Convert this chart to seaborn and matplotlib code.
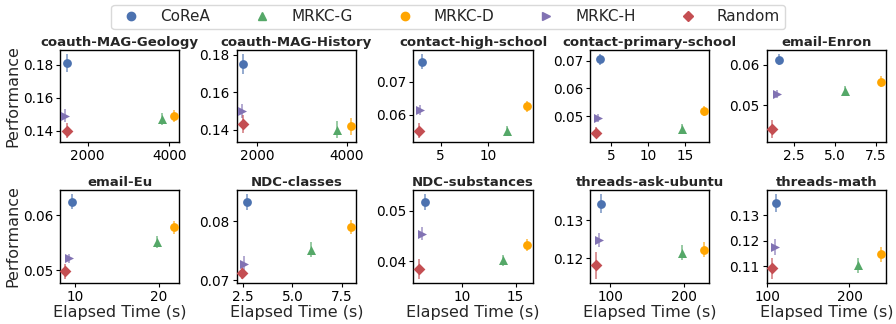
import numpy as np
import pandas as pd
import matplotlib
matplotlib.use("Agg")
import matplotlib.pyplot as plt
import seaborn as sns
from matplotlib.lines import Line2D

datasets = ["coauth-MAG-Geology", "coauth-MAG-History", "contact-high-school",
            "contact-primary-school", "email-Enron", "email-Eu", "NDC-classes",
            "NDC-substances", "threads-ask-ubuntu", "threads-math"]
methods = ["CoReA", "MRKC-G", "MRKC-D", "MRKC-H", "Random"]

# elapsed time (s) per method, one entry per dataset
time_corea = [1490, 1680, 3.0, 3.5, 1.6, 9.6, 2.70, 6.6, 88, 111]
time_mrkc_g = [3820, 3780, 12.0, 14.6, 5.65, 19.8, 5.95, 13.8, 198, 210]
time_mrkc_d = [4110, 4080, 14.2, 17.6, 7.8, 21.8, 7.95, 16.1, 228, 238]
time_mrkc_h = [1460, 1670, 2.8, 3.2, 1.5, 9.2, 2.55, 6.3, 85, 109]
time_random = [1490, 1680, 2.7, 2.9, 1.2, 8.8, 2.45, 6.0, 80, 106]

# performance per method
perf_corea = [0.181, 0.175, 0.0760, 0.0705, 0.0612, 0.0625, 0.0832, 0.0517, 0.1343, 0.1347]
perf_mrkc_g = [0.147, 0.140, 0.0550, 0.0455, 0.0535, 0.0551, 0.0752, 0.0402, 0.1215, 0.1104]
perf_mrkc_d = [0.149, 0.142, 0.0625, 0.0519, 0.0558, 0.0578, 0.0790, 0.0432, 0.1223, 0.1148]
perf_mrkc_h = [0.149, 0.150, 0.0613, 0.0493, 0.0528, 0.0522, 0.0728, 0.0455, 0.1248, 0.1175]
perf_random = [0.140, 0.143, 0.0552, 0.0440, 0.0440, 0.0498, 0.0713, 0.0385, 0.1182, 0.1092]

# standard deviation of performance
std_corea = [0.0053, 0.0053, 0.0023, 0.0019, 0.0014, 0.0013, 0.0013, 0.0015, 0.0024, 0.0035]
std_mrkc_g = [0.0035, 0.0045, 0.0015, 0.0015, 0.0012, 0.0011, 0.0012, 0.0011, 0.0019, 0.0029]
std_mrkc_d = [0.0035, 0.0045, 0.0016, 0.0017, 0.0013, 0.0012, 0.0012, 0.0012, 0.0020, 0.0030]
std_mrkc_h = [0.0040, 0.0035, 0.0015, 0.0015, 0.0010, 0.0008, 0.0013, 0.0012, 0.0018, 0.0031]
std_random = [0.0046, 0.0048, 0.0023, 0.0020, 0.0022, 0.0013, 0.0010, 0.0019, 0.0035, 0.0040]

# axis ticks per dataset
xticks = [[2000, 4000], [2000, 4000], [5, 10], [5, 10, 15], [2.5, 5.0, 7.5],
          [10, 20], [2.5, 5.0, 7.5], [10, 15], [100, 200], [100, 200]]
xticklabels = [["2000", "4000"], ["2000", "4000"], ["5", "10"], ["5", "10", "15"],
               ["2.5", "5.0", "7.5"], ["10", "20"], ["2.5", "5.0", "7.5"],
               ["10", "15"], ["100", "200"], ["100", "200"]]
yticks = [[0.14, 0.16, 0.18], [0.14, 0.16, 0.18], [0.06, 0.07], [0.05, 0.06, 0.07],
          [0.05, 0.06], [0.05, 0.06], [0.07, 0.08], [0.04, 0.05], [0.12, 0.13],
          [0.11, 0.12, 0.13]]

times = [time_corea, time_mrkc_g, time_mrkc_d, time_mrkc_h, time_random]
perfs = [perf_corea, perf_mrkc_g, perf_mrkc_d, perf_mrkc_h, perf_random]
stds = [std_corea, std_mrkc_g, std_mrkc_d, std_mrkc_h, std_random]

colors = {"CoReA": "#4C72B0", "MRKC-G": "#55A868", "MRKC-D": "#FFA500",
          "MRKC-H": "#8172B3", "Random": "#C44E52"}
markers = {"CoReA": "o", "MRKC-G": "^", "MRKC-D": "o", "MRKC-H": ">", "Random": "D"}
sizes = {"CoReA": 40, "MRKC-G": 42, "MRKC-D": 40, "MRKC-H": 42, "Random": 36}

rows = []
for m, t, p, s in zip(methods, times, perfs, stds):
    for d, ti, pi, si in zip(datasets, t, p, s):
        rows.append({"dataset": d, "method": m, "time": ti, "perf": pi, "std": si})
df = pd.DataFrame(rows)

sns.set_theme(style="ticks")
plt.rcParams["font.family"] = ["DejaVu Sans"]
plt.rcParams["axes.edgecolor"] = "black"
plt.rcParams["axes.linewidth"] = 1.0
plt.rcParams["xtick.color"] = "black"
plt.rcParams["ytick.color"] = "black"

fig, axes = plt.subplots(2, 5, figsize=(8.96, 3.24), dpi=100)
fig.subplots_adjust(left=0.067, right=0.989, top=0.846, bottom=0.127,
                    wspace=0.48, hspace=0.516)

for i, (ax, d) in enumerate(zip(axes.flat, datasets)):
    sub = df[df["dataset"] == d]
    for m in methods:
        r = sub[sub["method"] == m]
        ax.errorbar(r["time"], r["perf"], yerr=r["std"], fmt="none",
                    ecolor=colors[m], elinewidth=1.4, alpha=0.6, capsize=0)
    for m in methods:
        r = sub[sub["method"] == m]
        sns.scatterplot(data=r, x="time", y="perf", ax=ax, color=colors[m],
                        marker=markers[m], s=sizes[m], linewidth=0, legend=False,
                        zorder=3)
    ax.set_xticks(xticks[i], xticklabels[i])
    ax.set_yticks(yticks[i], [f"{v:.2f}" for v in yticks[i]])
    ax.set_title(d, fontsize=9.5, fontweight="bold", pad=3)
    ax.tick_params(labelsize=9.8, length=3, width=0.8, pad=2)
    ax.set_xlabel("Elapsed Time (s)" if i >= 5 else "", fontsize=11.5, labelpad=1)
    ax.set_ylabel("Performance" if i % 5 == 0 else "", fontsize=11.5, labelpad=2)
    for sp in ax.spines.values():
        sp.set_color("black")

handles = [Line2D([], [], linestyle="none", marker=markers[m], color=colors[m],
                  markersize=6 if m != "Random" else 5.5) for m in methods]
fig.legend(handles, methods, loc="upper center", bbox_to_anchor=(0.5, 0.995),
           borderaxespad=0.2, ncol=5, fontsize=11, frameon=True, fancybox=True,
           columnspacing=2.4, handletextpad=0.9, borderpad=0.3,
           edgecolor="#d0d0d0")

fig.savefig("out.png", dpi=100)
